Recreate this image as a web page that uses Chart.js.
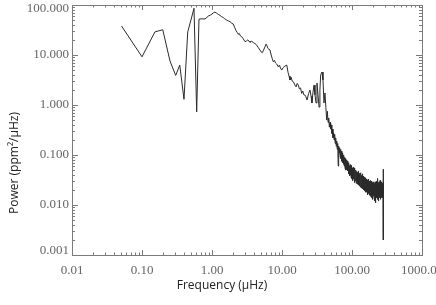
<!DOCTYPE html>
<html>
<head>
  <meta charset="utf-8">
  <title>Power spectrum</title>
  <script src="https://cdn.jsdelivr.net/npm/chart.js@4.4.0/dist/chart.umd.min.js"></script>
  <style>
    html, body { margin: 0; padding: 0; background: #fff; }
    canvas { display: block; }
  </style>
</head>
<body>
  <canvas id="myChart" width="436" height="305"></canvas>
  <script>
    // frequency in microHz, power in ppm^2/microHz
    const freq = [
      0.051, 0.100, 0.153, 0.198, 0.251, 0.303, 0.346, 0.398, 0.45, 0.50, 0.553, 0.604, 0.652,
      0.70, 0.794, 0.85, 0.886, 0.95, 1.00, 1.05, 1.10, 1.16, 1.23, 1.30, 1.38, 1.45, 1.52, 1.62,
      1.72, 1.82, 1.92, 2.01, 2.10, 2.20, 2.30, 2.37, 2.45, 2.55, 2.66, 2.80, 2.96, 3.10, 3.25,
      3.40, 3.49, 3.70, 3.90, 4.10, 4.35, 4.60, 4.85, 5.05, 5.23, 5.45, 5.70, 5.90, 6.04, 6.30,
      6.50, 6.74, 7.00, 7.25, 7.52, 7.80, 8.10, 8.40, 8.86, 9.20, 9.50, 9.90, 10.4, 11.0, 11.7,
      12.2, 12.6, 13.0, 13.5, 14.0, 14.6, 15.3, 15.9, 16.5, 17.1, 17.7, 18.4, 19.1, 19.8, 20.5,
      21.3, 22.0, 22.8, 24.0, 25.1, 26.0, 26.8, 27.7, 28.7, 29.6, 30.6, 31.6, 32.7, 33.8, 34.8,
      35.7, 37.3, 38.5, 39.8, 41.1, 42.3, 43.5, 44.5, 45.5, 46.5, 47.5, 48.5, 49.5, 50.5, 51.5,
      52.5, 53.5, 54.5, 55.5, 56.5, 57.5, 58.5, 59.5, 60.5, 61.5, 62.5, 63.5, 64.5, 65.5, 66.5,
      67.5, 68.5, 69.5, 70.5, 71.5, 72.5, 73.5, 74.5, 75.5, 76.5, 77.5, 78.5, 79.5, 80.5, 81.5,
      82.5, 83.5, 84.5,
      86, 87, 88, 89, 90, 91, 92, 93, 94, 95,
      96, 97, 98, 99, 100, 101, 102, 103, 104, 105,
      106, 107, 108, 109, 110, 111, 112, 113, 114, 115,
      116, 117, 118, 119, 120, 121, 122, 123, 124, 125,
      126, 127, 128, 129, 130, 131, 132, 133, 134, 135,
      136, 137, 138, 139, 140, 141, 142, 143, 144, 145,
      146, 147, 148, 149, 150, 151, 152, 153, 154, 155,
      156, 157, 158, 159, 160, 161, 162, 163, 164, 165,
      166, 167, 168, 169, 170, 171, 172, 173, 174, 175,
      176, 177, 178, 179, 180, 181, 182, 183, 184, 185,
      186, 187, 188, 189, 190, 191, 192, 193, 194, 195,
      196, 197, 198, 199, 200, 201, 202, 203, 204, 205,
      206, 207, 208, 209, 210, 211, 212, 213, 214, 215,
      216, 217, 218, 219, 220, 221, 222, 223, 224, 225,
      226, 227, 228, 229, 230, 231, 232, 233, 234, 235,
      236, 237, 238, 239, 240, 241, 242, 243, 244, 245,
      246, 247, 248, 249, 250, 251, 252, 253, 254, 255,
      256, 257, 258, 259, 260, 261, 262, 263, 264, 265,
      266, 267, 268, 269, 270, 271, 272, 273, 274, 275,
      276, 277, 278, 279, 280, 281
    ];
    const power = [
      38, 9.2, 29, 32, 7.6, 3.9, 6.3, 1.3, 29, 50, 86, 0.73, 52,
      53, 52.5, 57, 60, 63, 66, 70, 72, 69, 65, 62, 58, 56, 53, 50,
      48, 46, 43, 41.7, 36, 31, 28, 26, 27, 24, 23.2, 21, 18.5, 19, 20,
      18.8, 18, 19, 17.5, 17, 15.8, 14, 12.5, 11.5, 11.1, 12.5, 14.5, 16.5, 15.8, 13.5,
      13, 12.6, 10, 8.5, 7.3, 7.8, 6.9, 6.6, 5.8, 6.3, 5.5, 5.0, 5.6, 6.0, 6.3,
      4.5, 3.8, 3.16, 3.6, 3.0, 2.9, 2.5, 2.3, 2.7, 2.5, 2.1, 2.2, 1.71, 1.9, 1.6,
      1.58, 1.45, 1.26, 1.7, 2.0, 1.5, 1.10, 1.8, 2.5, 1.6, 1.10, 2.75, 1.6, 0.91, 2.0,
      4.0, 4.57, 3.16, 1.10, 1.74, 0.9, 0.5, 0.75, 0.45, 0.55, 0.36, 0.45, 0.33, 0.40, 0.27,
      0.33, 0.22, 0.28, 0.20, 0.26, 0.17, 0.22, 0.15, 0.19, 0.13, 0.17, 0.06, 0.15, 0.11, 0.14,
      0.095, 0.13, 0.085, 0.12, 0.075, 0.11, 0.07, 0.10, 0.065, 0.095, 0.06, 0.09, 0.055, 0.085, 0.05,
      0.08, 0.05, 0.078,
      0.075, 0.048, 0.066, 0.042, 0.070, 0.045, 0.060, 0.038, 0.064, 0.040,
      0.058, 0.036, 0.062, 0.034, 0.055, 0.038, 0.050, 0.031, 0.057, 0.033,
      0.048, 0.035, 0.055, 0.028, 0.046, 0.032, 0.050, 0.030, 0.044, 0.027,
      0.047, 0.031, 0.043, 0.026, 0.045, 0.029, 0.041, 0.025, 0.048, 0.028,
      0.040, 0.024, 0.043, 0.027, 0.038, 0.023, 0.041, 0.026, 0.044, 0.022,
      0.037, 0.025, 0.039, 0.022, 0.042, 0.024, 0.035, 0.021, 0.038, 0.023,
      0.034, 0.020, 0.037, 0.023, 0.033, 0.019, 0.036, 0.022, 0.034, 0.018,
      0.032, 0.021, 0.035, 0.020, 0.031, 0.018, 0.033, 0.021, 0.030, 0.017,
      0.032, 0.020, 0.029, 0.016, 0.031, 0.019, 0.028, 0.017, 0.033, 0.019,
      0.028, 0.016, 0.030, 0.018, 0.027, 0.015, 0.031, 0.018, 0.026, 0.016,
      0.029, 0.017, 0.027, 0.014, 0.030, 0.018, 0.026, 0.016, 0.028, 0.015,
      0.027, 0.017, 0.025, 0.013, 0.029, 0.016, 0.026, 0.017, 0.028, 0.015,
      0.025, 0.016, 0.027, 0.012, 0.026, 0.017, 0.024, 0.015, 0.029, 0.016,
      0.025, 0.011, 0.027, 0.016, 0.024, 0.017, 0.030, 0.015, 0.026, 0.016,
      0.024, 0.014, 0.028, 0.017, 0.034, 0.015, 0.025, 0.016, 0.027, 0.013,
      0.025, 0.016, 0.028, 0.014, 0.024, 0.012, 0.026, 0.016, 0.029, 0.015,
      0.024, 0.017, 0.027, 0.014, 0.025, 0.016, 0.031, 0.015, 0.026, 0.017,
      0.024, 0.013, 0.027, 0.016, 0.025, 0.015, 0.028, 0.017, 0.024, 0.014,
      0.026, 0.016, 0.029, 0.015, 0.025, 0.017, 0.027, 0.014, 0.026, 0.017,
      0.024, 0.015, 0.028, 0.017, 0.052, 0.002
    ];

    const xTickValues = [0.01, 0.1, 1, 10, 100, 1000];
    const xTickLabels = ['0.01', '0.10', '1.00', '10.00', '100.00', '1000.00'];
    const yTickValues = [0.001, 0.01, 0.1, 1, 10, 100];
    const yTickLabels = ['0.001', '0.010', '0.100', '1.000', '10.000', '100.000'];
    const xTitle = 'Frequency (\u00b5Hz)';
    const yTitle = 'Power (ppm\u00b2/\u00b5Hz)';

    // box, inward ticks, labels and titles drawn IDL-style
    const framePlugin = {
      id: 'frame',
      afterDraw(chart) {
        const ctx = chart.ctx;
        const a = chart.chartArea;
        const xs = chart.scales.x;
        const ys = chart.scales.y;
        ctx.save();
        ctx.strokeStyle = '#7a7a7a';
        ctx.lineWidth = 1;
        ctx.strokeRect(a.left + 0.5, a.top + 0.5, a.right - a.left, a.bottom - a.top);

        ctx.beginPath();
        xTickValues.forEach(d => {
          for (let m = 1; m <= 9; m++) {
            const v = d * m;
            if (v > xs.max * 1.0001) break;
            const px = Math.round(xs.getPixelForValue(v)) + 0.5;
            const len = m === 1 ? 5 : 2.5;
            ctx.moveTo(px, a.bottom); ctx.lineTo(px, a.bottom - len);
            ctx.moveTo(px, a.top); ctx.lineTo(px, a.top + len);
          }
        });
        yTickValues.forEach(d => {
          for (let m = 1; m <= 9; m++) {
            const v = d * m;
            if (v > ys.max * 1.0001) break;
            const py = Math.round(ys.getPixelForValue(v)) + 0.5;
            const len = m === 1 ? 6 : 3;
            ctx.moveTo(a.left, py); ctx.lineTo(a.left + len, py);
            ctx.moveTo(a.right, py); ctx.lineTo(a.right - len, py);
          }
        });
        ctx.stroke();

        ctx.fillStyle = '#666';
        ctx.font = '13px "Liberation Serif"';
        ctx.textAlign = 'center';
        ctx.textBaseline = 'top';
        xTickValues.forEach((v, i) => {
          ctx.fillText(xTickLabels[i], xs.getPixelForValue(v), a.bottom + 9);
        });
        ctx.textAlign = 'right';
        ctx.textBaseline = 'middle';
        yTickValues.forEach((v, i) => {
          let py = ys.getPixelForValue(v);
          py = Math.min(Math.max(py, a.top + 4), a.bottom - 4);
          ctx.fillText(yTickLabels[i], a.left - 3, py);
        });

        ctx.fillStyle = '#222';
        ctx.font = '12px "Open Sans"';
        ctx.textAlign = 'center';
        ctx.fillText(xTitle, a.left + 150, a.bottom + 31);
        ctx.translate(15, a.top + 158);
        ctx.rotate(-Math.PI / 2);
        ctx.fillText(yTitle, 0, 0);
        ctx.restore();
      }
    };

    const ctx = document.getElementById('myChart').getContext('2d');
    const myChart = new Chart(ctx, {
      type: 'line',
      data: {
        datasets: [{
          data: freq.map((f, i) => ({ x: f, y: power[i] })),
          borderColor: '#2a2a2a',
          borderWidth: 1,
          pointRadius: 0,
          fill: false,
          tension: 0
        }]
      },
      options: {
        responsive: false,
        animation: false,
        layout: { padding: { left: 0, top: 5, right: 14, bottom: 0 } },
        scales: {
          x: {
            type: 'logarithmic',
            min: 0.01,
            max: 1000,
            ticks: { display: false },
            grid: { display: false },
            border: { display: false },
            afterFit: s => { s.height = 50; }
          },
          y: {
            type: 'logarithmic',
            min: 0.001,
            max: 100,
            ticks: { display: false },
            grid: { display: false },
            border: { display: false },
            afterFit: s => { s.width = 72; }
          }
        },
        plugins: {
          legend: { display: false },
          tooltip: { enabled: false }
        }
      },
      plugins: [framePlugin]
    });
  </script>
</body>
</html>
